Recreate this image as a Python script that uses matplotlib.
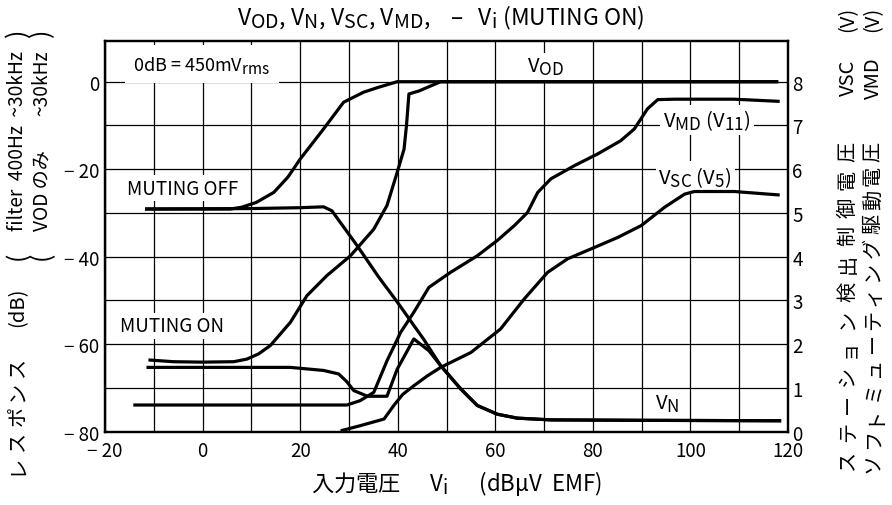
import matplotlib
matplotlib.use('Agg')
import matplotlib.pyplot as plt
import matplotlib._mathtext as _mt

plt.rcParams['font.family'] = ['Noto Sans CJK JP', 'DejaVu Sans']
plt.rcParams['mathtext.fontset'] = 'custom'
plt.rcParams['mathtext.rm'] = 'Noto Sans CJK JP'
plt.rcParams['mathtext.it'] = 'Noto Sans CJK JP'
plt.rcParams['mathtext.bf'] = 'Noto Sans CJK JP'
plt.rcParams['mathtext.sf'] = 'Noto Sans CJK JP'
plt.rcParams['axes.unicode_minus'] = False
try:
    _mt.SHRINK_FACTOR = 0.85
except Exception:
    pass

# ---------------- data ----------------
x_ticks = [-20, 0, 20, 40, 60, 80, 100, 120]
x_ticklabels = ['\u2212 20', '0', '20', '40', '60', '80', '100', '120']
y_ticks = [0, -20, -40, -60, -80]
y_ticklabels = ['0', '\u2212 20', '\u2212 40', '\u2212 60', '\u2212 80']
v_ticks = [0, 1, 2, 3, 4, 5, 6, 7, 8]
v_ticklabels = ['0', '1', '2', '3', '4', '5', '6', '7', '8']

# V_OD, muting off (dB)
vod_off_x = [-11.8, 5.7, 8.0, 11.0, 14.6, 17.5, 20.0, 24.8, 28.9, 33.0, 36.0, 39.9, 118.0]
vod_off_db = [-29.1, -29.1, -28.7, -27.6, -25.3, -21.8, -17.7, -10.8, -4.7, -2.4, -1.3, 0.0, 0.0]

# V_OD, muting on (dB)
vod_on_x = [-11.1, -6.0, 0.0, 6.4, 9.1, 11.5, 13.9, 18.0, 21.4, 25.5, 30.3, 35.1, 37.8, 39.9,
            41.3, 41.8, 42.3, 44.4, 48.8, 118.0]
vod_on_db = [-63.6, -64.0, -64.1, -64.0, -63.4, -62.2, -60.3, -55.0, -48.9, -44.3, -39.8, -33.7,
             -28.3, -20.7, -15.4, -10.0, -2.8, -2.1, 0.0, 0.0]

# V_N, muting off (dB)
vn_off_x = [-11.8, 10.0, 20.0, 24.8, 26.5, 31.7, 36.0, 40.0, 42.6, 45.4, 48.8, 52.9, 56.3,
            60.4, 64.5, 71.4, 90.0, 118.6]
vn_off_db = [-29.1, -29.0, -28.8, -28.6, -29.5, -37.5, -44.5, -50.5, -54.6, -59.0, -64.9, -70.2,
             -74.0, -76.0, -76.9, -77.3, -77.4, -77.5]

# V_N, muting on (dB)
vn_on_x = [-11.5, 18.0, 24.8, 27.9, 29.5, 31.0, 33.8, 37.8, 39.9, 43.3, 46.4, 48.8, 52.9, 56.3,
           60.4, 64.5, 71.4, 90.0, 118.6]
vn_on_db = [-65.3, -65.3, -66.0, -66.8, -68.5, -70.6, -71.9, -71.9, -65.7, -58.8, -61.5, -64.9,
            -70.2, -74.0, -76.0, -76.9, -77.3, -77.4, -77.5]

# V_MD (V11), volts
vmd_x = [-14.2, 29.6, 32.3, 35.1, 37.8, 40.6, 43.3, 46.4, 50.8, 56.3, 60.4, 63.9, 66.6, 68.7,
         71.4, 76.2, 81.0, 85.7, 88.5, 91.2, 93.3, 96.7, 109.0, 118.3]
vmd_v = [0.61, 0.61, 0.71, 0.90, 1.62, 2.27, 2.73, 3.30, 3.64, 4.02, 4.37, 4.71, 5.01, 5.47,
         5.78, 6.08, 6.35, 6.65, 6.92, 7.38, 7.59, 7.60, 7.60, 7.55]

# V_SC (V5), volts
vsc_x = [28.3, 32.4, 37.2, 39.2, 41.0, 43.3, 46.0, 48.8, 55.0, 61.1, 65.9, 70.7, 74.8, 80.3,
         85.1, 89.9, 94.7, 98.8, 100.8, 109.0, 118.3]
vsc_v = [0.02, 0.14, 0.29, 0.60, 0.85, 1.05, 1.27, 1.47, 1.81, 2.35, 3.03, 3.64, 3.95, 4.21,
         4.44, 4.71, 5.13, 5.43, 5.49, 5.49, 5.41]

# ---------------- figure ----------------
W, H = 892, 506
fig = plt.figure(figsize=(W / 100, H / 100), dpi=100)
fig.patch.set_facecolor('white')
ax = fig.add_axes([105 / W, 1 - 432.7 / H, (788 - 105) / W, (432.7 - 41.7) / H])
ax2 = ax.twinx()

ax.set_xlim(-20, 120)
ax.set_ylim(-80, 9.37)
ax2.set_ylim(0, 8.937)

ax.set_xticks(x_ticks)
ax.set_xticklabels(x_ticklabels)
ax.set_yticks(y_ticks)
ax.set_yticklabels(y_ticklabels)
ax.set_xticks(list(range(-10, 120, 10)), minor=True)
ax.set_yticks(list(range(-70, 10, 10)), minor=True)
ax2.set_yticks(v_ticks)
ax2.set_yticklabels(v_ticklabels)

ax.grid(which='both', color='black', linewidth=0.9, zorder=0.5)
ax.set_axisbelow(True)
ax.tick_params(which='both', length=0)
ax.tick_params(axis='x', labelsize=13.5, pad=6)
ax.tick_params(axis='y', labelsize=13.5, pad=4)
ax2.tick_params(length=0, labelsize=13.5, pad=3)

for a in (ax, ax2):
    for s in a.spines.values():
        s.set_linewidth(1.6)
        s.set_color('black')

lw = 2.3
ax.plot(vod_off_x, vod_off_db, color='black', lw=lw, zorder=4, solid_capstyle='butt')
ax.plot(vod_on_x, vod_on_db, color='black', lw=lw, zorder=4, solid_capstyle='butt')
ax.plot(vn_off_x, vn_off_db, color='black', lw=lw, zorder=4, solid_capstyle='butt')
ax.plot(vn_on_x, vn_on_db, color='black', lw=lw, zorder=4, solid_capstyle='butt')
ax2.plot(vmd_x, vmd_v, color='black', lw=lw, solid_capstyle='butt')
ax2.plot(vsc_x, vsc_v, color='black', lw=lw, solid_capstyle='butt')

box = dict(facecolor='white', edgecolor='none', pad=2)
ax.text(-14.2, 4.0, r'0dB = 450mV$_{\mathrm{rms}}$', fontsize=13, ha='left', va='center',
        bbox=dict(facecolor='white', edgecolor='none', pad=6), zorder=3)
ax.text(70.3, 3.4, r'V$_{\mathrm{OD}}$', fontsize=14.5, ha='center', va='center', bbox=box, zorder=3)
ax.text(103.4, -8.7, r'V$_{\mathrm{MD}}$ (V$_{\mathrm{11}}$)', fontsize=14.5, ha='center', va='center',
        bbox=box, zorder=3)
ax.text(101.0, -21.7, r'V$_{\mathrm{SC}}$ (V$_{\mathrm{5}}$)', fontsize=14.5, ha='center', va='center',
        bbox=box, zorder=3)
ax.text(95.3, -73.5, r'V$_{\mathrm{N}}$', fontsize=14.5, ha='center', va='center', bbox=box, zorder=3)
ax.text(-15.5, -24.3, 'MUTING OFF', fontsize=13.5, ha='left', va='center', bbox=box, zorder=3)
ax.text(-16.9, -55.8, 'MUTING ON', fontsize=13.5, ha='left', va='center', bbox=box, zorder=3)


def fx(px):
    return px / W


def fy(py):
    return 1 - py / H


# title
fig.text(fx(441), fy(18),
         'V$_{\\mathrm{OD}}$, V$_{\\mathrm{N}}$, V$_{\\mathrm{SC}}$, V$_{\\mathrm{MD}}$,    \u2013   '
         'V$_{\\mathrm{i}}$ (MUTING ON)',
         fontsize=16.5, ha='center', va='center')

# x label
fig.text(fx(456), fy(484), '入力電圧      V$_{\\mathrm{i}}$      (dBμV  EMF)', fontsize=16,
         ha='center', va='center')

# left labels (rotated)
lc1, lc2 = 18, 42
for i, ch in enumerate('レスポンス'):
    fig.text(fx(lc1), fy(465 - i * 24.5), ch, rotation=90, fontsize=14.5, ha='center', va='center')
fig.text(fx(lc1), fy(307), '(dB)', rotation=90, fontsize=14.5, ha='center', va='center')
for c in (lc1, lc2):
    fig.text(fx(c), fy(256), '(', rotation=90, fontsize=18, ha='center', va='center')
    fig.text(fx(c), fy(33), ')', rotation=90, fontsize=18, ha='center', va='center')
fig.text(fx(lc1), fy(231), 'filter  400Hz  ~30kHz', rotation=90, fontsize=13.8,
         ha='center', va='bottom')
fig.text(fx(lc2), fy(231), 'VOD のみ', rotation=90, fontsize=13.8, ha='center', va='bottom')
fig.text(fx(lc2), fy(50), '~30kHz', rotation=90, fontsize=13.8, ha='center', va='top')

# right labels (rotated)
rc1, rc2 = 848, 873
for c, lab in ((rc1, 'VSC'), (rc2, 'VMD')):
    fig.text(fx(c), fy(7), '(V)', rotation=90, fontsize=14.5, ha='center', va='top')
    fig.text(fx(c), fy(78), lab, rotation=90, fontsize=14.5, ha='center', va='center')

s1 = 'ステーション検出制御電圧'
s2 = 'ソフトミューティング駆動電圧'
top1, bot1 = 152, 460
top2, bot2 = 152, 463
for i, ch in enumerate(s1):
    y = bot1 - i * (bot1 - top1) / (len(s1) - 1)
    fig.text(fx(rc1), fy(y), ch, rotation=90, fontsize=14.5, ha='center', va='center')
for i, ch in enumerate(s2):
    y = bot2 - i * (bot2 - top2) / (len(s2) - 1)
    fig.text(fx(rc2), fy(y), ch, rotation=90, fontsize=14.5, ha='center', va='center')

fig.savefig('out.png', dpi=100, facecolor='white')
